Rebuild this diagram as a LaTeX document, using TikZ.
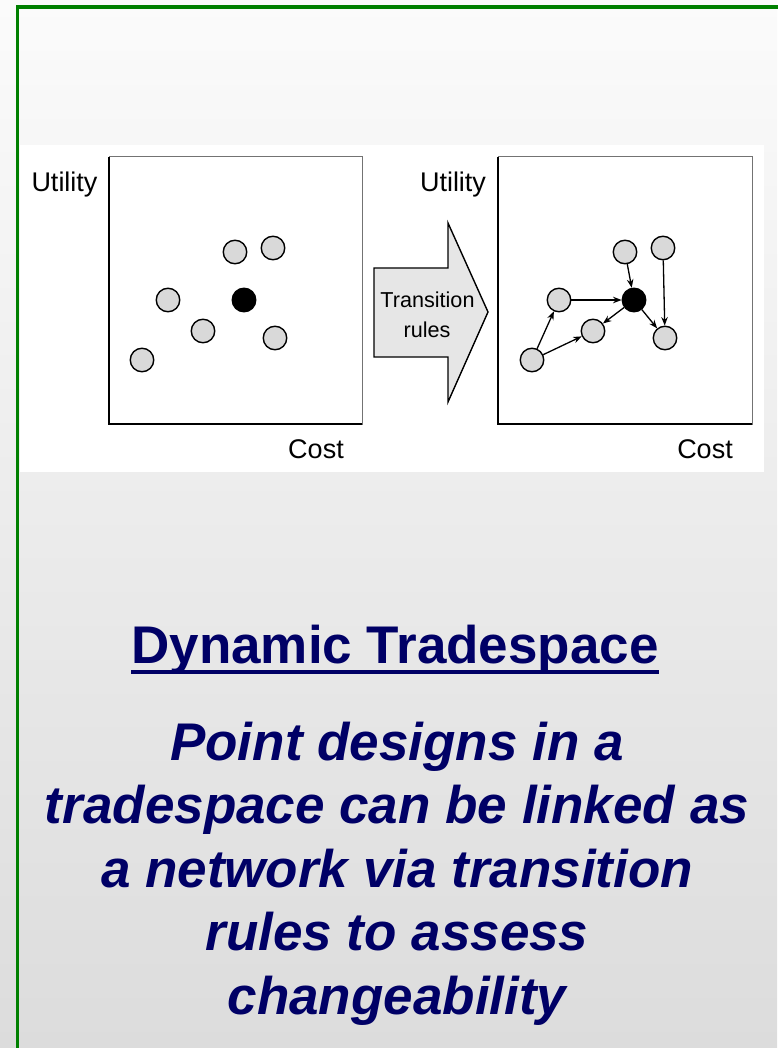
\documentclass[tikz,border=0pt]{standalone}
\usepackage{fontspec}
\setmainfont{Liberation Sans}
\usetikzlibrary{arrows.meta}
\definecolor{navytext}{RGB}{0,0,102}
\definecolor{framegreen}{RGB}{0,128,0}
\definecolor{bgtop}{RGB}{251,251,251}
\definecolor{bgbottom}{RGB}{220,220,220}
\definecolor{dotgray}{RGB}{217,217,217}
\definecolor{arrowgray}{RGB}{230,230,230}
\tikzset{
  design/.style={circle, draw=black, line width=1.4pt, fill=dotgray, minimum size=23.5pt, inner sep=0pt},
  chosen/.style={design, fill=black},
  axislabel/.style={font=\fontsize{27}{30}\selectfont, anchor=base, inner sep=0pt},
  link/.style={draw=black, line width=1.3pt, -{Stealth[length=8.5pt,width=6.5pt]}},
  plotframe/.style={draw=black!55, line width=1pt},
  plotaxis/.style={draw=black, line width=1.7pt},
  bodytext/.style={font=\fontsize{53}{63.5}\selectfont\bfseries\itshape, text=navytext, anchor=base, inner sep=0pt},
}
\begin{document}
\begin{tikzpicture}[x=1pt,y=-1pt]
\useasboundingbox (0,0) rectangle (777,1048);
% slide background
\shade[top color=bgtop, bottom color=bgbottom] (0,0) rectangle (777,1048);
% green frame
\draw[framegreen, line width=3.5pt] (17.5,1060) -- (17.5,7) -- (790,7);
% white figure panel
\fill[white] (19.5,145) rectangle (764,471.5);

% ---- left tradespace ----
\draw[plotframe] (109,157) rectangle (362,424);
\draw[plotaxis] (109,157) -- (109,424) -- (362,424);
\node[axislabel] (utilA) at (64.5,192) {Utility};
\node[axislabel] (costA) at (316,458) {Cost};
\node[design] (a1) at (235,252) {};
\node[design] (a2) at (273,248) {};
\node[design] (a3) at (168,300) {};
\node[chosen] (a4) at (244,300) {};
\node[design] (a5) at (203,331) {};
\node[design] (a6) at (275,338) {};
\node[design] (a7) at (142,360) {};

% ---- block arrow ----
\draw[fill=arrowgray, draw=black, line width=1.4pt]
  (374,268) -- (448,268) -- (448,223) -- (488,312) -- (448,402) -- (448,357) -- (374,357) -- cycle;
\node[font=\fontsize{21.6}{30}\selectfont, anchor=base, inner sep=0pt] (rulesA) at (427.5,307) {Transition};
\node[font=\fontsize{21.6}{30}\selectfont, anchor=base, inner sep=0pt] (rulesB) at (427,337) {rules};

% ---- right tradespace ----
\draw[plotframe] (498,157) rectangle (752,424);
\draw[plotaxis] (498,157) -- (498,424) -- (752,424);
\node[axislabel] (utilB) at (453,192) {Utility};
\node[axislabel] (costB) at (705,458) {Cost};
\node[design] (b1) at (625,252) {};
\node[design] (b2) at (663,248) {};
\node[design] (b3) at (559,300) {};
\node[chosen] (b4) at (634,300) {};
\node[design] (b5) at (593,331) {};
\node[design] (b6) at (665,338) {};
\node[design] (b7) at (532,360) {};
\draw[link] (b3) -- (b4);
\draw[link] (b1) -- (b4);
\draw[link] (b2) -- (b6);
\draw[link] (b4) -- (b6);
\draw[link] (b4) -- (b5);
\draw[link] (b7) -- (b3);
\draw[link] (b7) -- (b5);

% ---- caption ----
\node[font=\fontsize{53}{63.5}\selectfont\bfseries, text=navytext, anchor=base, inner sep=0pt] (title) at (395,663) {Dynamic Tradespace};
\draw[navytext, line width=4.5pt] ([yshift=-9pt]title.base west) -- ([yshift=-9pt]title.base east);
\node[bodytext] (l1) at (397,760) {Point designs in a};
\node[bodytext] (l2) at (397,823.5) {tradespace can be linked as};
\node[bodytext] (l3) at (397,887) {a network via transition};
\node[bodytext] (l4) at (397,950.5) {rules to assess};
\node[bodytext] (l5) at (397,1014) {changeability};
\end{tikzpicture}
\end{document}
